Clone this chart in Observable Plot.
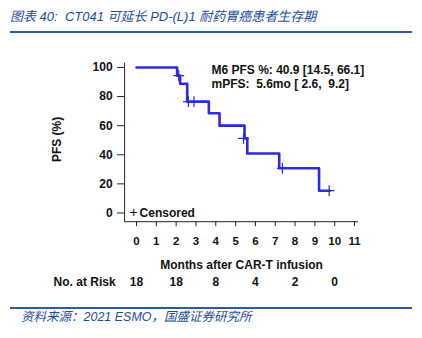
<!DOCTYPE html>
<html><head><meta charset="utf-8">
<script src="https://cdn.jsdelivr.net/npm/d3@7"></script>
<script src="https://cdn.jsdelivr.net/npm/@observablehq/plot@0.6"></script>
<style>
html,body{margin:0;padding:0;background:#fff;}
#wrap{position:relative;width:422px;height:338px;overflow:hidden;background:#fff;}
#title{position:absolute;left:10px;top:8px;font:italic 13px "Liberation Sans","Noto Sans CJK SC",sans-serif;color:#1e4c9c;white-space:pre;line-height:18px;}
#tline{position:absolute;left:10px;top:31px;width:402px;height:2px;background:#2c5aa8;}
#chart{position:absolute;left:0;top:36px;}
#chart svg text{white-space:pre;}
#fline{position:absolute;left:10px;top:307px;width:402px;height:1.5px;background:#2c5aa8;}
#foot{position:absolute;left:21px;top:309px;font:italic 12.5px "Liberation Sans","Noto Sans CJK SC",sans-serif;color:#1e4c9c;white-space:pre;line-height:17px;}
</style>
</head><body>
<div id="wrap">
  <div id="title"></div>
  <div id="tline"></div>
  <div id="chart"></div>
  <div id="fline"></div>
  <div id="foot"></div>
</div>
<script>
const titleText = "图表 40:  CT041 可延长 PD-(L)1 耐药胃癌患者生存期";
const footText = "资料来源：2021 ESMO，国盛证券研究所";

// Kaplan-Meier step curve (months, PFS %)
const kmMonths = [0, 2.05, 2.2, 2.56, 3.65, 4.19, 5.45, 5.59, 7.2, 9.21, 9.75];
const kmPfs    = [100, 94.4, 88.8, 76.5, 68.5, 60.0, 51.3, 40.9, 30.7, 15.3, 15.3];

// Censored observations
const censorMonths = [2.13, 2.62, 2.9, 5.4, 7.36, 9.72];
const censorPfs    = [94.4, 76.5, 76.5, 51.3, 30.7, 15.3];

// Number at risk
const riskMonths = [0, 2, 4, 6, 8, 10];
const riskCounts = [18, 18, 8, 4, 2, 0];

const xTicks = [0, 1, 2, 3, 4, 5, 6, 7, 8, 9, 10, 11];
const yTicks = [0, 20, 40, 60, 80, 100];
const xDomain = [-0.6, 11.2];
const yDomain = [-6, 103];

const annotLines = ["M6 PFS %: 40.9 [14.5, 66.1]", "mPFS:  5.6mo [ 2.6,  9.2]"];
const xLabel = "Months after CAR-T infusion";
const yLabel = "PFS (%)";
const riskLabel = "No. at Risk";
const legendLabel = "Censored";

document.getElementById("title").textContent = titleText;
document.getElementById("foot").textContent = footText;

const km = kmMonths.map((m, i) => ({m, p: kmPfs[i]}));
const censor = censorMonths.map((m, i) => ({m, p: censorPfs[i]}));
const risk = riskMonths.map((m, i) => ({m, n: riskCounts[i]}));

const blue = "#2b2be0";
const font = "'Liberation Sans', Arial, sans-serif";

const chart = Plot.plot({
  width: 422,
  height: 264,
  marginTop: 26.6,
  marginBottom: 78.8,
  marginLeft: 124.1,
  marginRight: 64,
  x: {domain: xDomain},
  y: {domain: yDomain},
  style: {fontFamily: font, fontWeight: "bold", fontSize: "12px", color: "#111", background: "#fff"},
  marks: [
    Plot.ruleX([xDomain[0]], {y1: yDomain[0], y2: yDomain[1], stroke: "#222", strokeWidth: 1}),
    Plot.ruleY([yDomain[0]], {x1: xDomain[0], x2: xDomain[1], stroke: "#222", strokeWidth: 1}),
    Plot.axisY({ticks: yTicks, tickSize: 7, tickPadding: 5, label: null, fontSize: 12, stroke: "#222"}),
    Plot.axisX({ticks: xTicks, tickSize: 5, tickPadding: 10, label: null, fontSize: 11.5, stroke: "#222"}),
    Plot.line(km, {x: "m", y: "p", curve: "step-after", stroke: blue, strokeWidth: 2.6}),
    Plot.dot(censor, {x: "m", y: "p", symbol: "plus", r: 3.6, stroke: blue, strokeWidth: 1.2}),
    Plot.text([annotLines.join("\n")], {frameAnchor: "top-left", dx: 86.9, dy: 13.4, textAnchor: "start", lineAnchor: "middle", lineHeight: 1.17, fontSize: 12, fill: "#111"}),
    Plot.text(["+"], {frameAnchor: "bottom-left", dx: 9, dy: -9, textAnchor: "middle", lineAnchor: "middle", fontSize: 14, fontWeight: "normal", fill: "#111"}),
    Plot.text([legendLabel], {frameAnchor: "bottom-left", dx: 15, dy: -9, textAnchor: "start", lineAnchor: "middle", fontSize: 12, fill: "#111"}),
    Plot.text([yLabel], {frameAnchor: "left", dx: -67, dy: -3, rotate: -90, textAnchor: "middle", lineAnchor: "middle", fontSize: 12, fill: "#111"}),
    Plot.text([xLabel], {frameAnchor: "bottom", dx: 0, dy: 43.8, textAnchor: "middle", lineAnchor: "middle", fontSize: 12, fill: "#111"}),
    Plot.text([riskLabel], {frameAnchor: "bottom-left", dx: -9, dy: 60.8, textAnchor: "end", lineAnchor: "middle", fontSize: 12, fill: "#111"}),
    Plot.text(risk, {x: "m", text: "n", frameAnchor: "bottom", dy: 60.8, lineAnchor: "middle", fontSize: 12, fill: "#111"})
  ]
});
document.getElementById("chart").appendChild(chart);
</script>
</body></html>
